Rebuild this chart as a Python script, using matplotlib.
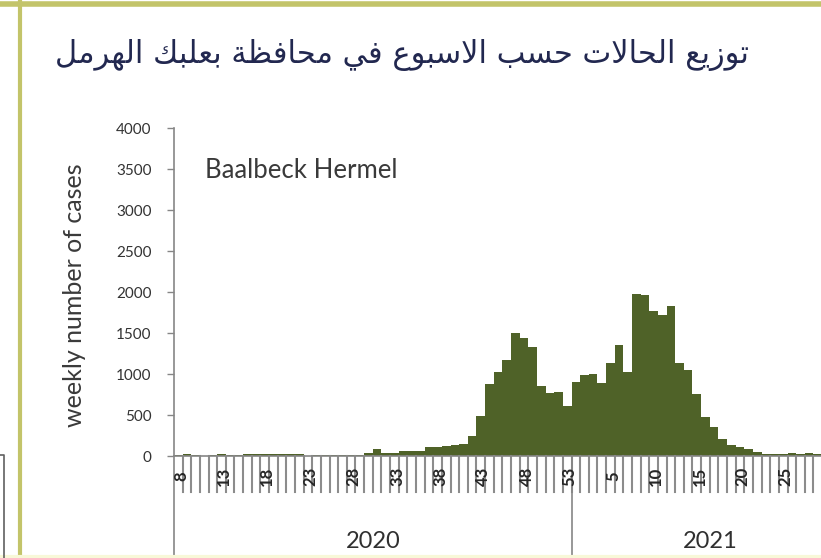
import numpy as np
import matplotlib.pyplot as plt
import matplotlib.transforms as mtransforms
from matplotlib.lines import Line2D

# Data (weekly number of cases, Baalbeck Hermel)
weeks_2020 = list(range(8, 54))
cases_2020 = [15, 30, 10, 5, 10, 30, 10, 10, 20, 20, 20, 20, 20, 20, 20, 5,
              15, 15, 15, 15, 15, 15, 40, 85, 35, 35, 55, 60, 65, 115, 115, 120,
              135, 150, 250, 490, 880, 1030, 1170, 1500, 1440, 1330, 860, 770, 785, 605]
weeks_2021 = list(range(1, 33))
cases_2021 = [905, 985, 1000, 885, 1130, 1350, 1030, 1975, 1960, 1775, 1720, 1830,
              1130, 1050, 755, 470, 355, 205, 135, 110, 80, 50, 30, 25,
              20, 40, 25, 40, 30, 30, 30, 30]
years = ['2020', '2021']

title_ar = 'توزيع الحالات حسب الاسبوع في محافظة بعلبك الهرمل'
region = 'Baalbeck Hermel'
ylabel = 'weekly number of cases'

# Arabic contextual shaping (presentation forms) + visual order
FORMS = {
    'ا': ('\uFE8D', '\uFE8E', None, None),
    'ب': ('\uFE8F', '\uFE90', '\uFE91', '\uFE92'),
    'ة': ('\uFE93', '\uFE94', None, None),
    'ت': ('\uFE95', '\uFE96', '\uFE97', '\uFE98'),
    'ح': ('\uFEA1', '\uFEA2', '\uFEA3', '\uFEA4'),
    'د': ('\uFEA9', '\uFEAA', None, None),
    'ر': ('\uFEAD', '\uFEAE', None, None),
    'ز': ('\uFEAF', '\uFEB0', None, None),
    'س': ('\uFEB1', '\uFEB2', '\uFEB3', '\uFEB4'),
    'ظ': ('\uFEC5', '\uFEC6', '\uFEC7', '\uFEC8'),
    'ع': ('\uFEC9', '\uFECA', '\uFECB', '\uFECC'),
    'ف': ('\uFED1', '\uFED2', '\uFED3', '\uFED4'),
    'ك': ('\uFED9', '\uFEDA', '\uFEDB', '\uFEDC'),
    'ل': ('\uFEDD', '\uFEDE', '\uFEDF', '\uFEE0'),
    'م': ('\uFEE1', '\uFEE2', '\uFEE3', '\uFEE4'),
    'ه': ('\uFEE9', '\uFEEA', '\uFEEB', '\uFEEC'),
    'و': ('\uFEED', '\uFEEE', None, None),
    'ي': ('\uFEF1', '\uFEF2', '\uFEF3', '\uFEF4'),
}


def shape_arabic(text):
    out = []
    i = 0
    while i < len(text):
        c = text[i]
        if c not in FORMS:
            out.append(c)
            i += 1
            continue
        prev = text[i - 1] if i > 0 else ''
        prev_joins = prev in FORMS and FORMS[prev][2] is not None
        if c == 'ل' and i + 1 < len(text) and text[i + 1] == 'ا':
            out.append('\uFEFC' if prev_joins else '\uFEFB')
            i += 2
            continue
        nxt = text[i + 1] if i + 1 < len(text) else ''
        next_joins = FORMS[c][2] is not None and nxt in FORMS
        iso, fin, ini, med = FORMS[c]
        if prev_joins and next_joins:
            out.append(med)
        elif prev_joins:
            out.append(fin)
        elif next_joins:
            out.append(ini)
        else:
            out.append(iso)
        i += 1
    return ''.join(reversed(out))


W, H = 821, 558
fig = plt.figure(figsize=(W / 100, H / 100), dpi=100)
fig.patch.set_facecolor('white')

ax_left, ax_right = 174, 821
ax_top, ax_bot = 128.3, 456
ax = fig.add_axes([ax_left / W, 1 - ax_bot / H, (ax_right - ax_left) / W, (ax_bot - ax_top) / H])

values = cases_2020 + cases_2021
labels = [str(w) for w in weeks_2020] + [str(w) for w in weeks_2021]
x = np.arange(len(values))

ax.bar(x, values, width=1.0, color='#4f6228', linewidth=0)

n_cat_visible = (ax_right - ax_left) / (397.5 / 46)
xmax = -0.5 + n_cat_visible
ax.set_xlim(-0.5, xmax)
ax.set_ylim(0, 4000)
ax.set_yticks(np.arange(0, 4001, 500))
ax.tick_params(axis='y', direction='out', length=5, width=1, color='#868686',
               pad=11, labelsize=11, labelcolor='#333333')
for lab in ax.get_yticklabels():
    lab.set_fontfamily('Lato')
ax.set_xticks([])
for s in ['top', 'right']:
    ax.spines[s].set_visible(False)
for s in ['left', 'bottom']:
    ax.spines[s].set_color('#868686')
    ax.spines[s].set_linewidth(1.2)

# multi-level category axis
trans = mtransforms.blended_transform_factory(ax.transData, ax.transAxes)
line_depth = -(492 - ax_bot) / (ax_bot - ax_top)
full_depth = -(H - ax_bot) / (ax_bot - ax_top)
for k in range(len(values)):
    ax.add_line(Line2D([k + 0.5, k + 0.5], [0, line_depth], transform=trans,
                       color='#8c8c8c', lw=1.5, clip_on=False))
n20 = len(weeks_2020)
for b in [-0.5, n20 - 0.5]:
    ax.add_line(Line2D([b, b], [0, full_depth], transform=trans,
                       color='#868686', lw=1.2, clip_on=False))

lab_y = -(476 - ax_bot) / (ax_bot - ax_top)
for i, lab in enumerate(labels):
    if i % 5 == 0 and i < xmax - 1:
        ax.text(i + 0.3, lab_y, lab, transform=trans, rotation=90, ha='center', va='center',
                fontsize=12, family='Lato', fontweight='bold', color='#262626',
                clip_on=False)

year_y = -(541 - ax_bot) / (ax_bot - ax_top)
spans = [(-0.5, n20 - 0.5), (n20 - 0.5, len(values) - 0.5)]
for yr, (a, b) in zip(years, spans):
    ax.text((a + b) / 2, year_y, yr, transform=trans, ha='center', va='center',
            fontsize=17, family='Lato', color='#303030', clip_on=False)

fig.text(205 / W, 1 - 178 / H, region, ha='left', va='baseline',
         fontsize=18.5, family='Lato', color='#3a3a3a')
fig.text(75 / W, 1 - 295 / H, ylabel, rotation=90, ha='center', va='center',
         fontsize=18, family='Lato', color='#3a3a3a')
fig.text(402 / W, 1 - 55 / H, shape_arabic(title_ar), ha='center', va='center',
         fontsize=22, family='DejaVu Sans', color='#222850')

# dashboard frame fragments
fig.add_artist(Line2D([0, 1], [1 - 4 / H, 1 - 4 / H], transform=fig.transFigure,
                      color='#c3c46a', lw=4))
fig.add_artist(Line2D([20 / W, 20 / W], [0, 1], transform=fig.transFigure,
                      color='#c3c46a', lw=3))
fig.add_artist(Line2D([0, 1], [1.5 / H, 1.5 / H], transform=fig.transFigure,
                      color='#f8f8d8', lw=3))
fig.add_artist(Line2D([0, 4 / W, 4 / W], [1 - 455 / H, 1 - 455 / H, 0],
                      transform=fig.transFigure, color='#606060', lw=1.2))

fig.savefig('out.png', dpi=100)
